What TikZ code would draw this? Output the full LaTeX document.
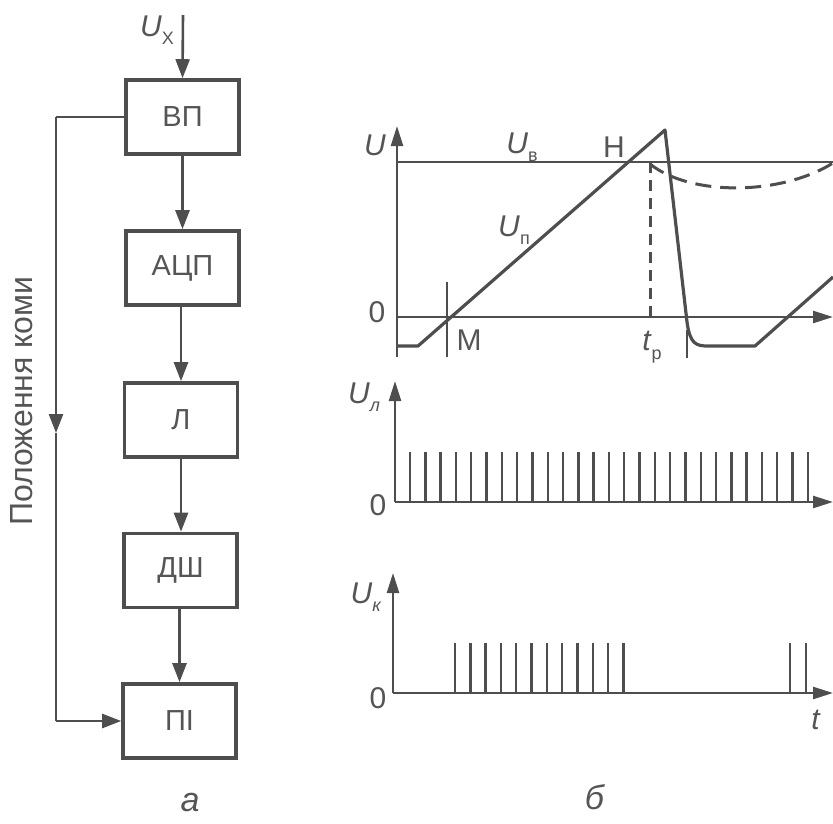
\documentclass[tikz,border=0pt]{standalone}
\usepackage{fontspec}
\setmainfont{Liberation Sans}
\usetikzlibrary{arrows.meta}
\definecolor{ink}{RGB}{78,78,78}
\definecolor{txt}{RGB}{85,85,85}
\newcommand{\Ulab}[2]{\textit{#1}\raisebox{-0.28em}{\fontsize{18}{18}\selectfont #2}}
\begin{document}
\begin{tikzpicture}[x=1pt,y=-1pt,
  blk/.style={draw=ink, line width=3.6pt, minimum width=113pt, minimum height=74pt, inner sep=0pt,
    font=\fontsize{29}{29}\selectfont, text=txt},
  tip/.style={-{Triangle[length=19pt,width=14pt]}},
  atip/.style={-{Triangle[length=20pt,width=12pt]}},
  conn/.style={draw=ink, line width=2.6pt, tip},
  wire/.style={draw=ink, line width=2.6pt},
  axis/.style={draw=ink, line width=2.4pt, atip},
  sig/.style={draw=ink, line width=3.2pt, line join=round},
  thinl/.style={draw=ink, line width=2.2pt},
  pulse/.style={draw=ink, line width=2.4pt},
  lbl/.style={text=txt, font=\fontsize{30}{30}\selectfont, inner sep=0pt}
]
\useasboundingbox (0,0) rectangle (833,823);

% ---------- block diagram (a) ----------
\node[blk] (vp)  at (182.5,117) {ВП};
\node[blk] (adc) at (182.5,268) {АЦП};
\node[blk] (l)   at (181,420)   {Л};
\node[blk] (dsh) at (180.5,570.5) {ДШ};
\node[blk] (pi)  at (179.5,721) {ПІ};

\coordinate (in) at (183,15);
\draw[conn] (in) -- (vp.north);
\node[lbl] (ux) at (157,30) {\Ulab{U}{X}};

\draw[conn] (vp.south) -- (adc.north);
\draw[conn] (adc.south -| l.north) -- (l.north);
\draw[conn] (l.south) -- (l.south |- dsh.north);
\draw[conn] (dsh.south -| pi.north) -- (pi.north);

\coordinate (fb1) at (56,117);
\coordinate (fbm) at (56,433);
\coordinate (fb2) at (56,721);
\draw[wire] (vp.west) -- (fb1);
\draw[conn] (fb1) -- (fbm);
\draw[wire] (fbm) -- (fb2);
\draw[conn] (fb2) -- (pi.west);
\node[lbl, rotate=90, font=\fontsize{32}{32}\selectfont] (pk) at (22,401) {Положення коми};

\node[lbl, font=\fontsize{34}{34}\selectfont] (la) at (190,803) {\textit{а}};

% ---------- time diagrams (б) ----------
% top graph
\coordinate (y1b) at (397,357);
\coordinate (y1t) at (397,126);
\coordinate (x1a) at (397,317);
\coordinate (x1b) at (833,317);
\draw[axis] (y1b) -- (y1t);
\draw[axis] (x1a) -- (x1b);
\draw[thinl] (397,162) -- (833,162);
\draw[sig] (397,346) -- (418,346) -- (665,130) -- (687,322)
   .. controls (690,344) and (696,346) .. (708,346) -- (755,346) -- (833,277);
\draw[thinl] (447,282) -- (447,357);
\draw[thinl] (687,330) -- (687,358);
\draw[ink, line width=3pt, dash pattern=on 11pt off 7pt] (650,317) -- (650,163);
\draw[ink, line width=3pt, dash pattern=on 16pt off 9pt] (650,164) .. controls (690,196) and (780,196) .. (833,163);

\node[lbl] (u1) at (375,145) {\textit{U}};
\node[lbl] (z1) at (377,312) {0};
\node[lbl] (uv) at (522,147) {\Ulab{U}{в}};
\node[lbl] (hh) at (614,147) {Н};
\node[lbl] (up) at (514,230) {\Ulab{U}{п}};
\node[lbl] (mm) at (469,340) {М};
\node[lbl] (tp) at (652,347) {\Ulab{t}{р}};

% middle graph
\draw[axis] (395,502) -- (395,381);
\draw[axis] (395,502) -- (833,502);
\foreach \i in {0,...,26} {
  \draw[pulse] ({410+15.3*\i},502) -- ({410+15.3*\i},452);
}
\node[lbl] (ul) at (364,397) {\Ulab{U}{\textit{л}}};
\node[lbl] (z2) at (378,505) {0};

% bottom graph
\draw[axis] (393,693) -- (393,573);
\draw[axis] (393,693) -- (833,693);
\foreach \i in {0,...,11} {
  \draw[pulse] ({455+15.3*\i},693) -- ({455+15.3*\i},643);
}
\draw[pulse] (790,693) -- (790,643);
\draw[pulse] (806,693) -- (806,643);
\node[lbl] (uk) at (366,597) {\Ulab{U}{\textit{к}}};
\node[lbl] (z3) at (378,698) {0};
\node[lbl] (tt) at (816,720) {\textit{t}};

\node[lbl, font=\fontsize{34}{34}\selectfont] (lb) at (595,797) {\textit{б}};
\end{tikzpicture}
\end{document}
